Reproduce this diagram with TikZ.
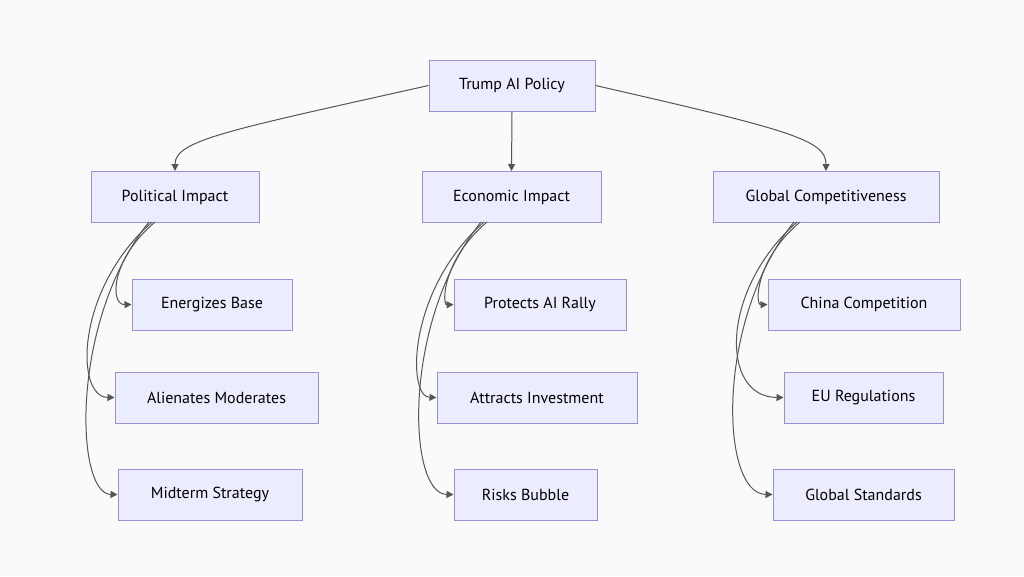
\documentclass[tikz,border=0pt]{standalone}
\usepackage{fontspec}
\setmainfont{PT Sans}
\usetikzlibrary{arrows.meta}
\definecolor{boxfill}{HTML}{ECECFF}
\definecolor{boxline}{HTML}{9C8FD6}
\definecolor{edge}{HTML}{555555}
\tikzset{
  box/.style={draw=boxline, fill=boxfill, line width=1pt, minimum height=51pt, inner xsep=0pt, font=\fontsize{16}{18}\selectfont},
  link/.style={draw=edge, line width=1pt, -{Triangle[length=7pt,width=7pt]}}
}
\begin{document}
\begin{tikzpicture}[x=1pt,y=-1pt]
  \fill[white!98!black] (0,0) rectangle (1024,576);
  \useasboundingbox (0,0) rectangle (1024,576);
  % Nodes:
  \node[box, minimum width=166pt] (root) at (512,85.5){Trump AI Policy};
  \node[box, minimum width=168pt] (pol) at (175,197){Political Impact};
  \node[box, minimum width=179pt] (eco) at (511.5,197){Economic Impact};
  \node[box, minimum width=226pt] (glo) at (826,197){Global Competitiveness};
  \node[box, minimum width=160pt] (base) at (212,304.5){Energizes Base};
  \node[box, minimum width=203pt] (mod) at (216.5,397.5){Alienates Moderates};
  \node[box, minimum width=184pt] (mid) at (210,494.5){Midterm Strategy};
  \node[box, minimum width=172pt] (rally) at (540,304.5){Protects AI Rally};
  \node[box, minimum width=200pt] (inv) at (537,397.5){Attracts Investment};
  \node[box, minimum width=143pt] (bub) at (525.5,494.5){Risks Bubble};
  \node[box, minimum width=192pt] (china) at (864,304.5){China Competition};
  \node[box, minimum width=159pt] (eu) at (863.5,397.5){EU Regulations};
  \node[box, minimum width=181pt] (std) at (863.5,494.5){Global Standards};
  % Connectors:
  \draw[link] (root.west) .. controls (230,130) and (175,140) .. (pol.north);
  \draw[link] (root.south) -- (eco.north);
  \draw[link] (root.east) .. controls (790,130) and (826,140) .. (glo.north);
  \foreach \p/\a/\b/\c/\x in {pol/base/mod/mid/155, eco/rally/inv/bub/487, glo/china/eu/std/800}{
    \draw[link] (\x,222) .. controls (\x-45,260) and (\x-45,305) .. (\a.west);
    \draw[link] (\x-3,222) .. controls (\x-80,290) and (\x-80,397) .. (\b.west);
    \draw[link] (\x-6,222) .. controls (\x-85,320) and (\x-80,494) .. (\c.west);
  }
\end{tikzpicture}
\end{document}
